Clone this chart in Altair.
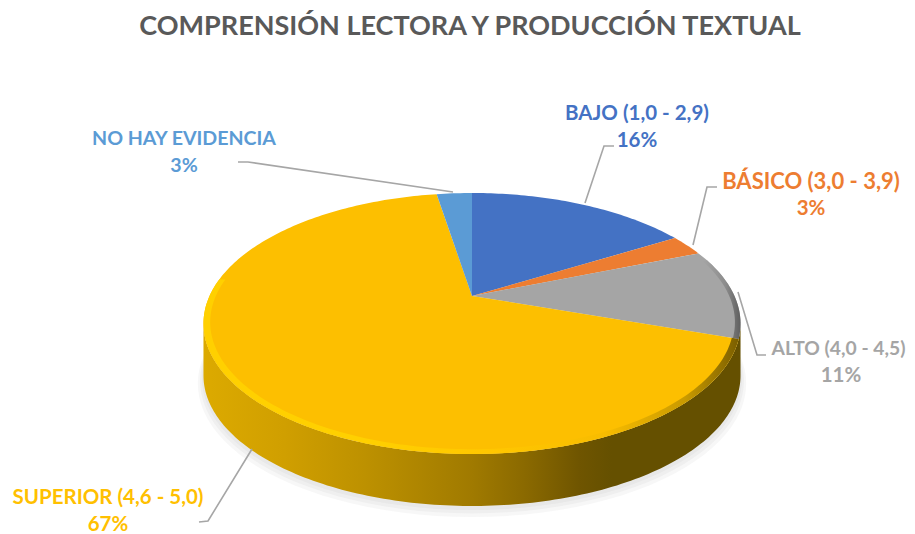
import math
import altair as alt

TITLE = "COMPRENSIÓN LECTORA Y PRODUCCIÓN TEXTUAL"
categories = ["BAJO (1,0 - 2,9)", "BÁSICO (3,0 - 3,9)", "ALTO (4,0 - 4,5)", "SUPERIOR (4,6 - 5,0)", "NO HAY EVIDENCIA"]
percent_labels = ["16%", "3%", "11%", "67%", "3%"]
values = [16.4, 2.6, 11.2, 67.2, 2.6]
colors = ["#4472C4", "#ED7D31", "#A5A5A5", "#FDBF00", "#5B9BD5"]
label_colors = ["#4472C4", "#ED7D31", "#A5A5A5", "#FFC000", "#5B9BD5"]

# layout (page pixels)
label_centers = [(637, 113), (811, 181), (838.5, 348), (108, 497), (184, 138)]
percent_centers = [637, 811, 841, 108, 184]
label_sizes = [20.5, 22, 19.3, 20.5, 19.6]
percent_sizes = [20.5, 20.5, 20.5, 20.5, 19.6]
leaders = [
    [(585, 203), (604, 146), (614, 146)],
    [(693, 245), (707, 187), (717, 187)],
    [(738, 292), (757, 355), (766, 355)],
    [(252, 449), (208, 521), (199, 522)],
    [(453, 192), (248, 162), (238, 162)],
]
CX, CY, A, B, K, DEPTH = 472, 296, 262.5, 124.7, 0.2107, 52
M = 8  # page margin


def pt(deg, r=1.0, dy=0.0):
    t = math.radians(deg)
    u, v = r * math.sin(t), -r * math.cos(t)
    w = 1 - K * v
    return [CX + A * u / w - M, CY + B * v / w + dy - M]


def arc(a0, a1, r=1.0, dy=0.0, step=1.0):
    n = max(2, int(abs(a1 - a0) / step) + 1)
    return [pt(a0 + (a1 - a0) * i / (n - 1), r, dy) for i in range(n)]


def feature(ring, **props):
    return {"type": "Feature", "properties": props,
            "geometry": {"type": "Polygon", "coordinates": [ring + [ring[0]]]}}


proj = alt.Projection(type="identity", scale=1, translate=[0, 0])


def shape(features, **mark):
    return alt.Chart(alt.InlineData(values=features)).mark_geoshape(**mark).project(**proj.to_dict())


# slices from the values
slices = []
start = 0.0
total = sum(values)
angles = []
for v, c in zip(values, colors):
    end = start + 360 * v / total
    angles.append((start, end))
    slices.append(feature([pt(0, 0)] + arc(start, end), color=c))
    start = end

RIM0, RIM1 = 102.2, 257.8
wall_ring = arc(RIM0, RIM1) + arc(RIM1, RIM0, dy=DEPTH)


def grad(stops):
    return alt.Gradient(gradient="linear", x1=0, x2=1, y1=0, y2=0,
                        stops=[alt.GradientStop(offset=o, color=c) for o, c in stops])


wall_stops = [(0, "#dcaa00"), (.15, "#d09f00"), (.3, "#bd9100"), (.5, "#a07a00"),
              (.6, "#8a6900"), (.7, "#6f5500"), (.76, "#655000"), (1, "#655000")]
bevel_stops = [(0, "#ffd000"), (.3, "#ffd000"), (.55, "#ffc600"), (.75, "#f8bc00"),
               (.9, "#c99a00"), (1, "#7a5e00")]

layers = []

# soft shadow under the pie
for grow, sh in [(1.02, 7), (1.012, 5), (1.005, 3)]:
    ring = arc(0, 360, r=grow, dy=DEPTH + sh, step=3)[:-1]
    layers.append(shape([feature(ring)], fill="#8c8c8c", opacity=0.07, stroke=None))

layers.append(shape([feature(wall_ring)], fill=grad(wall_stops), stroke=None))

layers.append(shape(slices, stroke=None).encode(color=alt.Color("properties.color:N", scale=None)))

# rounded rim of the top face
sup0, sup1 = angles[3]
BEVEL_END = 278
layers.append(shape([feature(arc(sup0, BEVEL_END) + arc(BEVEL_END, sup0, r=0.976))],
                    fill=grad(bevel_stops), stroke=None))
alto0, alto1 = angles[2]
layers.append(shape([feature(arc(alto0 + 4, alto1) + arc(alto1, alto0 + 4, r=0.98))],
                    fill=grad([(0, "#A5A5A5"), (.6, "#8c8c8c"), (1, "#5f5f5f")]),
                    stroke=None))

# leader lines
line_feats = [{"type": "Feature", "properties": {},
               "geometry": {"type": "LineString", "coordinates": [[x - M, y - M] for x, y in l]}}
              for l in leaders]
layers.append(shape(line_feats, filled=False, stroke="#A6A6A6", strokeWidth=1.6))

# labels
FONT = "Lato"
for i, (cat, pct, col) in enumerate(zip(categories, percent_labels, label_colors)):
    x, y = label_centers[i]
    for txt, xx, yy, fs in [(cat, x, y + 1, label_sizes[i]), (pct, percent_centers[i], y + 28, percent_sizes[i])]:
        layers.append(
            alt.Chart(alt.InlineData(values=[{"t": txt}])).mark_text(
                font=FONT, fontSize=fs, fontWeight="bold", color=col, align="center", baseline="middle"
            ).encode(text="t:N", x=alt.value(xx - M), y=alt.value(yy - M))
        )

layers.append(
    alt.Chart(alt.InlineData(values=[{"t": TITLE}])).mark_text(
        font=FONT, fontSize=27, fontWeight="bold", color="#595959", align="center", baseline="middle"
    ).encode(text="t:N", x=alt.value(470 - M), y=alt.value(27 - M))
)

chart = alt.layer(*layers).properties(
    width=899, height=526, padding=0, background="white",
    autosize=alt.AutoSizeParams(type="none")
).configure_view(stroke=None)

chart.save("out.html", embed_options={"renderer": "svg", "actions": False})
